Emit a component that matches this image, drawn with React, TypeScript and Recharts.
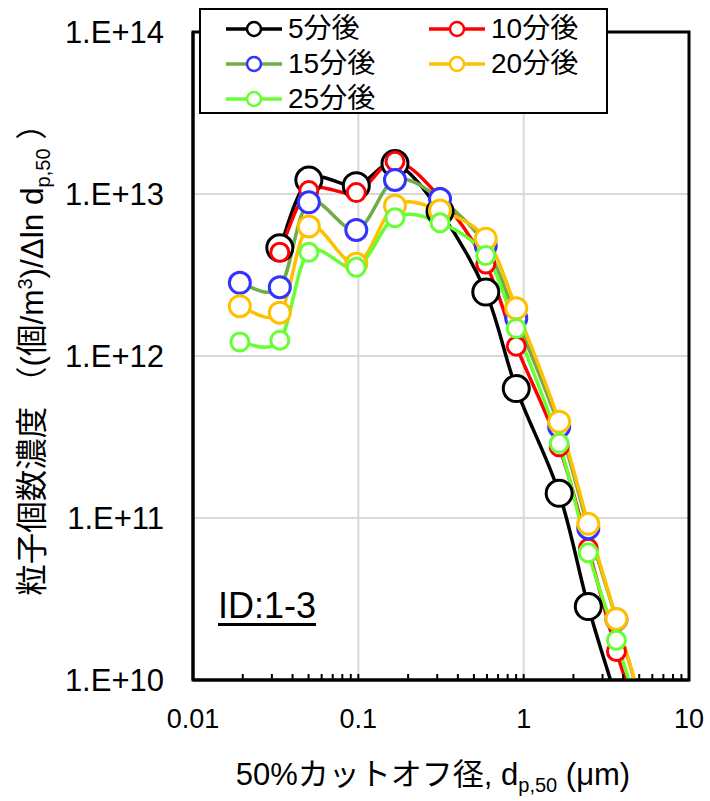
import React from 'react';
import { LineChart, Line, XAxis, YAxis, CartesianGrid, Legend, ReferenceLine, ReferenceArea } from 'recharts';

const FONT = "'Liberation Sans', Arial, 'Noto Sans CJK JP', sans-serif";

// 50% cut-off diameters (µm)
const cutoffDiameters = [0.0192, 0.0335, 0.0502, 0.0972, 0.1666, 0.312, 0.59, 0.902, 1.64, 2.46, 3.64, 5.4];

// particle number concentration (#/m3)/dln dp50
const after5 = [null, 4.65e12, 1.22e13, 1.125e13, 1.54e13, 7.8e12, 2.48e12, 6.29e11, 1.42e11, 2.84e10, 7.6e9, 2.0e9];
const after10 = [null, 4.37e12, 1.05e13, 1.02e13, 1.59e13, 9.5e12, 3.7e12, 1.15e12, 2.75e11, 6.5e10, 1.5e10, 4.5e9];
const after15 = [2.83e12, 2.66e12, 8.88e12, 6.0e12, 1.22e13, 9.3e12, 4.8e12, 1.71e12, 3.66e11, 8.65e10, 2.36e10, 6.0e9];
const after20 = [2.03e12, 1.85e12, 6.3e12, 3.71e12, 8.47e12, 7.9e12, 5.3e12, 1.97e12, 3.93e11, 9.2e10, 2.38e10, 6.2e9];
const after25 = [1.22e12, 1.25e12, 4.37e12, 3.53e12, 7.14e12, 6.65e12, 4.17e12, 1.48e12, 2.89e11, 6.1e10, 1.76e10, 4.8e9];

const seriesNames = ['5分後', '10分後', '15分後', '20分後', '25分後'];

const xTicks = [0.01, 0.1, 1, 10];
const xTickLabels = ['0.01', '0.1', '1', '10'];
const xGridLines = [0.1, 1];
const xMinorTicks = [
  0.01, 0.02, 0.03, 0.04, 0.05, 0.06, 0.07, 0.08, 0.09,
  0.1, 0.2, 0.3, 0.4, 0.5, 0.6, 0.7, 0.8, 0.9,
  1, 2, 3, 4, 5, 6, 7, 8, 9, 10,
];
const yTicks = [1e10, 1e11, 1e12, 1e13, 1e14];
const yTickLabels = ['1.E+10', '1.E+11', '1.E+12', '1.E+13', '1.E+14'];
const xDomain = [0.01, 10];
const yDomain = [1e10, 1e14];

const idLabel = 'ID:1-3';

const styles = [
  { line: '#000000', marker: '#000000', r: 13 },
  { line: '#FF0000', marker: '#FF0000', r: 9 },
  { line: '#70AD47', marker: '#3333FF', r: 10.5 },
  { line: '#FFC000', marker: '#FFC000', r: 10.5 },
  { line: '#66FF33', marker: '#66FF33', r: 9 },
];

const allValues = [after5, after10, after15, after20, after25];

const seriesData = allValues.map((vals) =>
  cutoffDiameters
    .map((d, i) => ({ d, v: vals[i] }))
    .filter((p) => p.v !== null)
);

// Excel-like smoothed line (Catmull-Rom)
function excelSmooth(context: any) {
  let pts: number[][] = [];
  return {
    areaStart() {},
    areaEnd() {},
    lineStart() {
      pts = [];
    },
    lineEnd() {
      const n = pts.length;
      if (n === 0) return;
      context.moveTo(pts[0][0], pts[0][1]);
      for (let i = 0; i < n - 1; i++) {
        const p0 = pts[i - 1] || pts[i];
        const p1 = pts[i];
        const p2 = pts[i + 1];
        const p3 = pts[i + 2] || p2;
        context.bezierCurveTo(
          p1[0] + (p2[0] - p0[0]) / 6,
          p1[1] + (p2[1] - p0[1]) / 6,
          p2[0] - (p3[0] - p1[0]) / 6,
          p2[1] - (p3[1] - p1[1]) / 6,
          p2[0],
          p2[1]
        );
      }
    },
    point(x: number, y: number) {
      pts.push([+x, +y]);
    },
  };
}

const LegendBox = () => (
  <div
    style={{
      boxSizing: 'border-box',
      width: 409,
      height: 106,
      border: '2px solid #000',
      background: '#fff',
      padding: '1px 0 0 25px',
      display: 'grid',
      gridTemplateColumns: '203px 180px',
      gridAutoRows: '35px',
      fontFamily: FONT,
      fontSize: 28,
      color: '#000',
    }}
  >
    {seriesNames.map((name, i) => (
      <div key={name} style={{ display: 'flex', alignItems: 'center' }}>
        <svg width={56} height={20} style={{ flex: 'none' }}>
          <line x1={0} y1={10} x2={56} y2={10} stroke={styles[i].line} strokeWidth={3.5} />
          <circle cx={28} cy={10} r={7} fill="#fff" stroke={styles[i].marker} strokeWidth={2.5} />
        </svg>
        <span style={{ marginLeft: 6, lineHeight: '35px', whiteSpace: 'nowrap' }}>{name}</span>
      </div>
    ))}
  </div>
);

const YTitle = (props: any) => {
  const vb = props.viewBox || { x: 0, y: 0, width: 0, height: 0 };
  const cx = 43;
  const cy = vb.y + vb.height / 2 - 4;
  return (
    <text
      x={cx}
      y={cy}
      transform={`rotate(-90, ${cx}, ${cy})`}
      textAnchor="middle"
      fontFamily={FONT}
      fontSize={31.5}
      fill="#000"
    >
      <tspan>粒子個数濃度 （(個/m</tspan>
      <tspan dy={-11} fontSize={20}>3</tspan>
      <tspan dy={11}>)/Δln d</tspan>
      <tspan dy={7} fontSize={20}>p,50</tspan>
      <tspan dy={-7}> ）</tspan>
    </text>
  );
};

const XTitle = (props: any) => {
  const vb = props.viewBox || { x: 0, y: 0, width: 0, height: 0 };
  const cx = vb.x + vb.width / 2 - 8;
  const cy = 785;
  return (
    <text x={cx} y={cy} textAnchor="middle" fontFamily={FONT} fontSize={31} fill="#000">
      <tspan>50%カットオフ径, d</tspan>
      <tspan dy={7} fontSize={20}>p,50</tspan>
      <tspan dy={-7}> (μm)</tspan>
    </text>
  );
};

export default function App() {
  return (
    <div style={{ position: 'absolute', left: 0, top: 0, width: 710, height: 801, background: '#fff' }}>
      <LineChart
        width={710}
        height={801}
        margin={{ top: 32, right: 21, bottom: 0, left: 0 }}
        style={{ fontFamily: FONT }}
      >
        <CartesianGrid stroke="#D9D9D9" strokeWidth={2} vertical={false} />
        {xGridLines.map((g) => (
          <ReferenceLine key={'g' + g} x={g} stroke="#D9D9D9" strokeWidth={2} />
        ))}
        <XAxis
          dataKey="d"
          type="number"
          scale="log"
          domain={xDomain}
          allowDataOverflow
          ticks={xMinorTicks}
          interval={0}
          tickFormatter={(v: number) => {
            const idx = xTicks.findIndex((t) => Math.abs(t - v) < t * 1e-6);
            return idx >= 0 ? xTickLabels[idx] : '';
          }}
          height={121}
          tickLine={{ stroke: '#000', strokeWidth: 2 }}
          tickSize={-6}
          tickMargin={35}
          axisLine={{ stroke: '#000', strokeWidth: 3 }}
          tick={{ fontSize: 27, fill: '#000', fontFamily: FONT }}
          label={<XTitle />}
        />
        <YAxis
          type="number"
          scale="log"
          domain={yDomain}
          allowDataOverflow
          ticks={yTicks}
          interval={0}
          tickFormatter={(v: number) => yTickLabels[yTicks.indexOf(v)] ?? ''}
          width={193}
          tickLine={false}
          tickSize={0}
          tickMargin={29}
          axisLine={{ stroke: '#000', strokeWidth: 3 }}
          tick={{ fontSize: 31, fill: '#000', fontFamily: FONT }}
          label={<YTitle />}
        />
        {seriesData.map((data, i) => (
          <Line
            key={seriesNames[i]}
            name={seriesNames[i]}
            data={data}
            dataKey="v"
            type={excelSmooth as any}
            stroke={styles[i].line}
            strokeWidth={3.5}
            dot={{ r: styles[i].r, fill: '#fff', stroke: styles[i].marker, strokeWidth: 3 }}
            activeDot={false}
            isAnimationActive={false}
          />
        ))}
        <ReferenceArea
          x1={xDomain[0]}
          x2={xDomain[1]}
          y1={yDomain[0]}
          y2={yDomain[1]}
          fill="none"
          fillOpacity={0}
          stroke="#000"
          strokeWidth={3}
        />
        <Legend
          layout="vertical"
          align="center"
          verticalAlign="middle"
          wrapperStyle={{ left: 199, top: 8, width: 409, height: 106 }}
          content={() => <LegendBox />}
        />
      </LineChart>
      <div
        style={{
          position: 'absolute',
          left: 218,
          top: 586,
          fontFamily: FONT,
          fontSize: 36,
          textDecoration: 'underline',
          textUnderlineOffset: 5,
          color: '#000',
          lineHeight: '40px',
        }}
      >
        {idLabel}
      </div>
    </div>
  );
}
